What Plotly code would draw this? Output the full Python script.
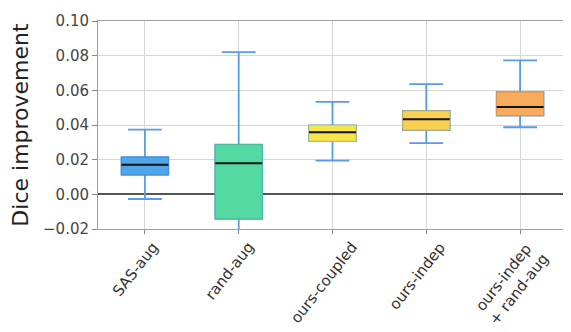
import plotly.graph_objects as go

# Box statistics
methods = ["SAS-aug", "rand-aug", "ours-coupled", "ours-indep", "ours-indep<br>+ rand-aug"]
lower = [-0.0027, -0.035, 0.0194, 0.0296, 0.0387]
q1 = [0.0113, -0.0141, 0.0308, 0.0371, 0.0454]
median = [0.0171, 0.0180, 0.0358, 0.0433, 0.0504]
q3 = [0.0215, 0.0286, 0.0398, 0.0481, 0.0590]
upper = [0.0373, 0.0821, 0.0533, 0.0636, 0.0773]
fills = ["#4FA6EA", "#55D9A2", "#F9E54C", "#F9D052", "#F9AB5C"]
edges = ["#3F90D6", "#45C48F", "#E0CC3A", "#E0B840", "#E0944A"]

fig = go.Figure()

for i, m in enumerate(methods):
    # whiskers
    fig.add_trace(go.Box(x=[m], q1=[q1[i]], median=[median[i]], q3=[q3[i]],
                         lowerfence=[lower[i]], upperfence=[upper[i]],
                         fillcolor=fills[i], line=dict(color="#5A9BE6", width=1.8),
                         width=0.5, whiskerwidth=0.72, showlegend=False, hoverinfo="skip"))
    # box body
    fig.add_trace(go.Box(x=[m], q1=[q1[i]], median=[median[i]], q3=[q3[i]],
                         lowerfence=[q1[i]], upperfence=[q3[i]],
                         fillcolor=fills[i], line=dict(color=edges[i], width=1),
                         width=0.5, whiskerwidth=0, showlegend=False, hoverinfo="skip"))
    # median line
    fig.add_trace(go.Box(x=[m], q1=[median[i]], median=[median[i]], q3=[median[i]],
                         lowerfence=[median[i]], upperfence=[median[i]],
                         fillcolor="rgba(0,0,0,0)", line=dict(color="#111111", width=2),
                         width=0.5, whiskerwidth=0, showlegend=False, hoverinfo="skip"))
    # rotated category label, centred under its tick (matplotlib style)
    fig.add_annotation(x=m, y=0, xref="x", yref="paper", text=m, showarrow=False,
                       textangle=-52, xanchor="center", yanchor="top",
                       xshift=-9, yshift=-7,
                       align="center", font=dict(size=15, color="#333333"))

fig.update_layout(
    width=571, height=332,
    margin=dict(l=90, r=12, t=13, b=111),
    plot_bgcolor="white", paper_bgcolor="white",
    boxmode="overlay",
    font=dict(family="DejaVu Sans", color="#333333"),
)
fig.update_xaxes(
    type="category", range=[-0.5, 4.5], automargin=False,
    showgrid=True, gridcolor="#D6D6D6", gridwidth=1,
    showline=True, linecolor="#A0A0A0", mirror=True,
    ticks="outside", ticklen=4, tickcolor="#888888",
    showticklabels=False,
)
fig.update_yaxes(
    range=[-0.02, 0.10], dtick=0.02, tickformat=".2f", automargin=False,
    showgrid=True, gridcolor="#D6D6D6", gridwidth=1,
    zeroline=True, zerolinecolor="#555555", zerolinewidth=2,
    showline=True, linecolor="#A0A0A0", mirror=True,
    ticks="outside", ticklen=5, tickcolor="#888888",
    tickfont=dict(size=15, color="#444444"),
    title=dict(text="Dice improvement", font=dict(size=22, color="#222222"), standoff=19),
)

fig.write_html("out.html")
